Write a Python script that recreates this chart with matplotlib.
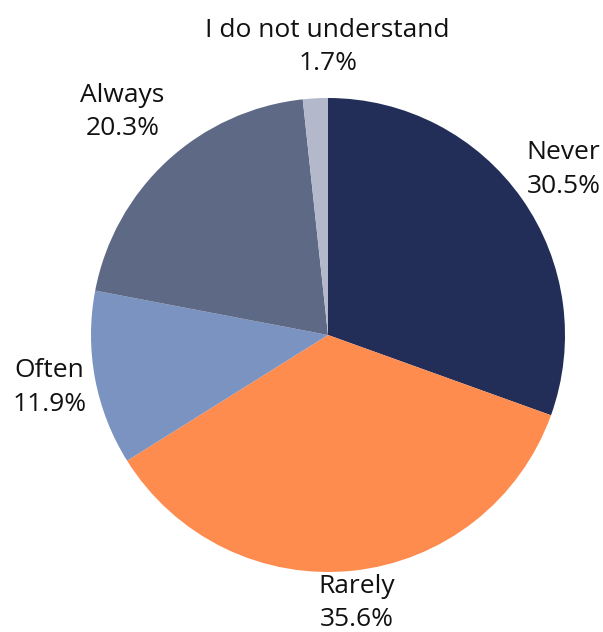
import numpy as np
import matplotlib
matplotlib.use("Agg")
import matplotlib.pyplot as plt

plt.rcParams['font.family'] = ['Open Sans', 'DejaVu Sans']

categories = ["Never", "Rarely", "Often", "Always", "I do not understand"]
shares = [30.5, 35.6, 11.9, 20.3, 1.7]
colors = ["#222e58", "#ff8c4f", "#7b93c0", "#5e6a85", "#b3b8cb"]

# label placement: distance from centre in radii, angular nudge in degrees
label_dist = [1.215, 1.138, 1.196, 1.279, 1.215]
label_nudge = [0.0, 0.0, 0.0, 0.0, 3.0]

W, H = 603, 632
fig = plt.figure(figsize=(W / 100, H / 100), dpi=100)
ax = fig.add_axes([0, 0, 1, 1])

cx, cy, r = 328, H - 335, 237
ax.pie(shares, colors=colors, startangle=90, counterclock=False,
       center=(cx, cy), radius=r, frame=True,
       wedgeprops=dict(linewidth=0))
ax.set_xlim(0, W)
ax.set_ylim(0, H)
ax.set_aspect("equal")
ax.axis("off")

cum = np.cumsum([0] + shares[:-1])
for name, val, start, d, nudge in zip(categories, shares, cum, label_dist, label_nudge):
    mid = np.deg2rad((start + val / 2) / 100 * 360 + nudge)
    x = cx + d * r * np.sin(mid)
    y = cy + d * r * np.cos(mid)
    ax.text(x, y, f"{name}\n{val:.1f}%", ha="center", va="center",
            fontsize=19, color="#111111", linespacing=1.45)

fig.savefig("out.png", dpi=100)
